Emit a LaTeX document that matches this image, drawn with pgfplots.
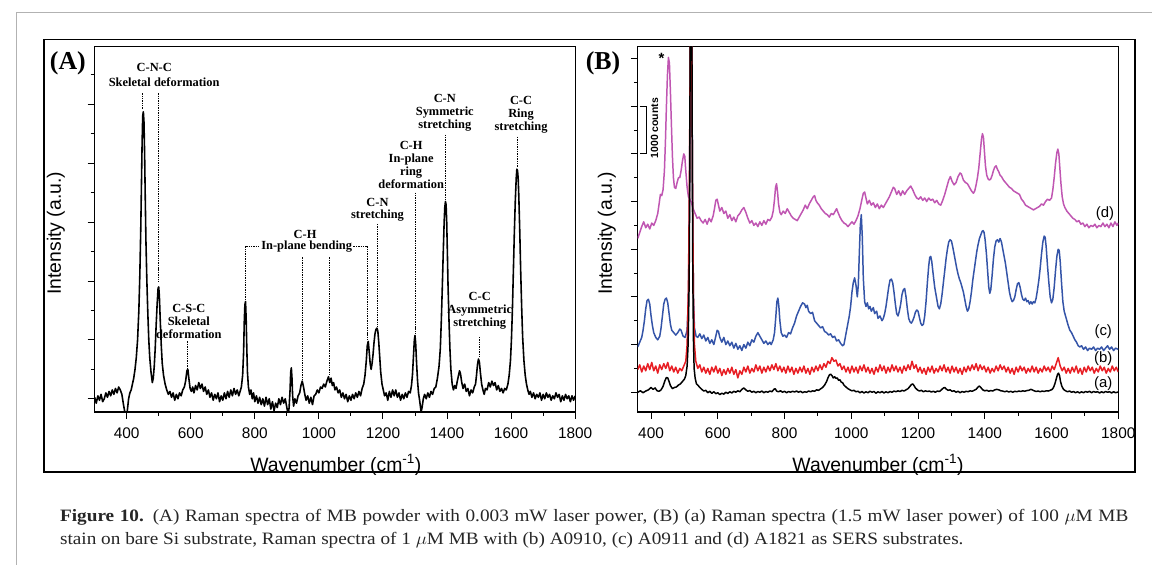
\documentclass[border=0pt]{standalone}
\usepackage{fontspec}
\setmainfont{Liberation Sans}
\newfontfamily\capserif{Liberation Serif}
\usepackage{graphicx}
\usepackage{pgfplots}
\pgfplotsset{compat=1.18}

\definecolor{specmag}{RGB}{192,86,178}
\definecolor{specblue}{RGB}{52,84,168}
\definecolor{specred}{RGB}{232,30,36}

\newcommand\annfont{\capserif\bfseries\fontsize{12.5}{13}\selectfont}
\newcommand\capfont{\capserif\fontsize{17.5}{23}\selectfont}
\newcommand\lineone{\textbf{Figure 10.} (A) Raman spectra of MB powder with 0.003~mW laser power, (B) (a) Raman spectra (1.5~mW laser power) of 100~$\mu$M~MB}
\newcommand\linetwo{stain on bare Si substrate, Raman spectra of 1~$\mu$M MB with (b) A0910, (c) A0911 and (d) A1821 as SERS substrates.}
\newlength\capw

\pgfplotsset{
  ramanax/.style={
    scale only axis, width=484pt, height=368pt, anchor=south west,
    axis line style={line width=1.2pt},
    tick align=outside, xtick pos=bottom, ytick pos=left,
    major tick length=7pt, minor tick length=4pt,
    tick style={line width=1pt, black},
    xtick={400,600,...,1800}, minor xtick={500,700,...,1700},
    yticklabels={},
    tick label style={font=\fontsize{15.5}{15.5}\selectfont},
    xticklabel style={yshift=-5pt},
    /pgf/number format/assume math mode=true,
    /pgf/number format/1000 sep={},
  },
  spec/.style={line width=1.5pt, line join=round},
}
\tikzset{
  ann/.style={font=\annfont, inner sep=0pt, align=center},
  dline/.style={black, line width=0.8pt, dash pattern=on 1.4pt off 1pt},
}

\begin{document}
\settowidth\capw{\capfont\linetwo}
\pgfmathsetmacro\capsx{910/\capw}
\pgfmathsetlengthmacro\capwone{1076pt/\capsx}
\begin{tikzpicture}
\begin{scope}[x=1pt,y=1pt]
\useasboundingbox (0,0) rectangle (1152,569);
\fill[white] (0,0) rectangle (1152,569);
% page frame and figure box
\draw[gray!60, line width=1.2pt] (8.3,-5) -- (8.3,556.3) -- (1160,556.3);
\draw[black, line width=1.6pt] (36,529) rectangle (1135,93.5);
\end{scope}

% ---------------- panel A ----------------
\begin{axis}[ramanax, at={(87pt,154pt)},
  xmin=300, xmax=1800, ymin=-0.45, ymax=11.96,
  ytick={0,2,...,10}, minor ytick={1,3,...,11}]
\addplot[black, spec, line width=1.6pt] coordinates {
(300,0.05)(305,-0.15)(310,0.1)(315,-0.05)(320,0.15)(325,-0.1)(330,0.0)(335,0.2)(340,0.05)(345,0.25)
(350,0.1)(355,0.3)(360,0.15)(365,0.35)(370,0.2)(375,0.4)(380,0.3)(385,0.15)(390,-0.2)(395,-0.5)
(400,-0.6)(403,-0.3)(406,0.0)(410,0.2)(414,0.3)(418,0.5)(422,0.7)(426,1.0)(430,1.4)(434,2.0)
(438,3.0)(441,4.2)(444,5.8)(446,7.2)(448,8.6)(450,9.6)(452,9.75)(454,9.4)(456,8.3)(458,6.8)
(460,5.4)(463,4.0)(466,2.9)(469,2.0)(472,1.4)(476,0.9)(480,0.55)(483,0.7)(486,1.1)(489,1.7)
(492,2.5)(495,3.2)(498,3.75)(500,3.8)(502,3.5)(505,2.6)(508,1.8)(511,1.2)(515,0.8)(520,0.5)
(525,0.3)(530,0.15)(535,0.25)(540,0.05)(545,0.2)(550,-0.05)(555,0.15)(560,0.0)(565,0.2)(570,0.1)
(575,0.3)(580,0.4)(584,0.6)(588,0.95)(591,1.0)(594,0.7)(598,0.35)(602,0.25)(606,0.4)(610,0.2)
(615,0.45)(620,0.3)(625,0.55)(630,0.35)(635,0.5)(640,0.25)(645,0.4)(650,0.15)(655,0.3)(660,0.05)
(665,0.2)(670,-0.05)(675,0.15)(680,0.0)(685,0.2)(690,-0.1)(695,0.1)(700,-0.05)(705,0.2)(710,0.0)
(715,0.25)(720,0.05)(725,0.3)(730,0.1)(735,0.35)(740,0.15)(745,0.3)(750,0.1)(754,0.25)(758,0.4)
(762,0.8)(765,1.6)(767,2.6)(769,3.2)(771,3.3)(773,2.7)(775,1.7)(777,0.9)(780,0.4)(784,0.15)
(788,0.3)(792,0.0)(796,0.2)(800,-0.1)(805,0.1)(810,-0.15)(815,0.05)(820,-0.2)(825,0.0)(830,-0.25)
(835,0.05)(840,-0.2)(845,0.0)(850,-0.35)(855,-0.1)(860,-0.4)(865,-0.15)(870,-0.3)(875,0.0)(880,-0.2)
(885,0.05)(890,-0.15)(895,0.0)(900,-0.3)(904,-0.55)(907,-0.3)(910,0.3)(912,0.9)(914,1.05)(916,0.7)
(918,0.1)(921,-0.25)(925,0.0)(930,-0.15)(935,0.1)(940,0.2)(944,0.45)(948,0.6)(952,0.4)(956,0.15)
(960,-0.05)(965,0.1)(970,-0.15)(975,0.05)(980,-0.2)(985,0.1)(990,0.15)(995,0.3)(1000,0.2)(1005,0.4)
(1010,0.35)(1015,0.5)(1020,0.4)(1025,0.6)(1030,0.75)(1034,0.55)(1038,0.7)(1042,0.45)(1046,0.55)(1050,0.3)
(1055,0.4)(1060,0.2)(1065,0.3)(1070,0.05)(1075,0.2)(1080,0.0)(1085,0.15)(1090,-0.1)(1095,0.1)(1100,-0.05)
(1105,0.15)(1110,0.0)(1115,0.2)(1120,0.05)(1125,0.25)(1130,0.1)(1135,0.35)(1140,0.5)(1144,0.8)(1148,1.3)
(1151,1.8)(1154,1.95)(1157,1.6)(1160,1.2)(1163,1.0)(1166,1.2)(1169,1.5)(1172,1.9)(1175,2.2)(1178,2.35)
(1181,2.4)(1184,2.3)(1187,1.9)(1190,1.4)(1193,0.9)(1197,0.5)(1201,0.3)(1205,0.1)(1210,0.2)(1215,-0.05)
(1220,0.25)(1225,0.05)(1230,0.3)(1235,0.1)(1240,0.3)(1245,0.05)(1250,0.2)(1255,-0.05)(1260,0.15)(1265,0.0)
(1270,0.2)(1275,0.05)(1280,0.25)(1285,0.2)(1289,0.45)(1292,0.8)(1295,1.4)(1298,2.0)(1300,2.15)(1302,1.9)
(1305,1.2)(1308,0.6)(1311,0.2)(1315,-0.1)(1319,-0.45)(1322,-0.3)(1326,0.0)(1330,0.15)(1335,0.0)(1340,0.2)
(1345,0.05)(1350,0.25)(1355,0.15)(1360,0.35)(1365,0.4)(1370,0.7)(1375,1.1)(1379,1.7)(1382,2.6)(1385,3.7)
(1388,4.9)(1391,6.0)(1393,6.5)(1395,6.7)(1397,6.6)(1399,6.0)(1401,5.0)(1403,3.9)(1406,2.7)(1409,1.7)
(1412,1.0)(1416,0.5)(1420,0.3)(1424,0.45)(1428,0.35)(1432,0.6)(1436,0.8)(1439,0.95)(1442,0.85)(1446,0.55)
(1450,0.35)(1455,0.5)(1460,0.25)(1465,0.35)(1470,0.1)(1475,0.3)(1480,0.2)(1485,0.4)(1489,0.5)(1492,0.8)
(1495,1.15)(1498,1.35)(1501,1.25)(1504,0.9)(1508,0.5)(1512,0.3)(1516,0.15)(1520,0.35)(1525,0.3)(1530,0.55)
(1535,0.4)(1540,0.6)(1545,0.45)(1550,0.55)(1555,0.3)(1560,0.45)(1565,0.25)(1570,0.35)(1575,0.2)(1580,0.35)
(1585,0.3)(1590,0.5)(1594,0.8)(1598,1.3)(1601,2.0)(1604,3.0)(1607,4.3)(1610,5.6)(1613,6.7)(1616,7.5)
(1618,7.8)(1620,7.75)(1622,7.5)(1624,6.9)(1627,5.7)(1630,4.3)(1633,3.1)(1636,2.1)(1640,1.3)(1644,0.8)
(1648,0.5)(1652,0.3)(1656,0.15)(1660,0.25)(1665,0.05)(1670,0.2)(1675,0.0)(1680,0.15)(1685,0.05)(1690,0.2)
(1695,-0.05)(1700,0.15)(1705,0.0)(1710,0.2)(1715,0.05)(1720,0.15)(1725,-0.05)(1730,0.1)(1735,0.0)(1740,0.2)
(1745,0.05)(1750,0.15)(1755,-0.1)(1760,0.1)(1765,-0.05)(1770,0.15)(1775,0.0)(1780,0.1)(1785,-0.1)(1790,0.1)
(1795,-0.05)(1800,0.1)};
% band assignments
\node[ann] at (486,11.26) {C-N-C};
\node[ann] at (517,10.75) {Skeletal deformation};
\draw[dline] (450,10.38) -- (450,9.85);
\draw[dline] (500,10.38) -- (500,3.95);
\node[ann] at (594,2.62) {C-S-C\\Skeletal\\deformation};
\draw[dline] (590,1.95) -- (590,1.05);
\node[ann] at (957,5.59) {C-H};
\draw[dline] (770,3.35) -- (770,5.18) -- (1152,5.18) -- (1152,2.0);
\node[ann, fill=white, inner sep=1pt] at (962,5.18) {In-plane bending};
\draw[dline] (947,4.8) -- (947,0.65);
\draw[dline] (1032,4.8) -- (1032,0.8);
\node[ann] at (1183,6.42) {C-N\\stretching};
\draw[dline] (1183,5.94) -- (1183,2.45);
\node[ann] at (1288,7.94) {C-H\\In-plane\\ring\\deformation};
\draw[dline] (1302,7.0) -- (1302,2.2);
\node[ann] at (1393,9.72) {C-N\\Symmetric\\stretching};
\draw[dline] (1396,8.97) -- (1396,6.75);
\node[ann] at (1631,9.65) {C-C\\Ring\\stretching};
\draw[dline] (1620,8.9) -- (1620,7.85);
\node[ann] at (1502,2.99) {C-C\\Asymmetric\\stretching};
\draw[dline] (1500,2.1) -- (1500,1.4);
\end{axis}

% ---------------- panel B ----------------
\begin{axis}[ramanax, at={(634pt,154pt)},
  xmin=360, xmax=1800, ymin=-0.83, ymax=14.5,
  ytick={0,2,...,14}, minor ytick={1,3,...,13}]
% (d) A1821
\addplot[specmag, spec] coordinates {
(360,6.45)(366,6.7)(372,6.95)(378,7.15)(384,6.9)(390,7.05)(396,6.85)(402,7.1)(408,7.0)(414,7.2)
(420,7.5)(424,7.9)(428,8.3)(432,8.25)(436,8.5)(440,9.3)(443,10.5)(446,12.0)(449,13.3)(452,14.05)
(455,13.8)(458,12.6)(461,11.2)(464,9.9)(467,9.0)(470,8.6)(474,8.55)(478,8.8)(482,9.0)(486,9.0)
(490,9.3)(494,9.7)(498,10.0)(501,9.9)(504,9.3)(508,8.6)(512,8.2)(516,8.1)(520,8.0)(526,7.7)
(532,7.5)(538,7.3)(544,7.35)(550,7.2)(556,7.1)(562,7.25)(568,7.05)(574,7.3)(580,7.15)(586,7.4)
(590,7.7)(594,8.05)(598,8.1)(602,7.85)(606,7.6)(612,7.75)(618,7.5)(624,7.6)(630,7.3)(636,7.45)
(642,7.2)(648,7.35)(654,7.15)(660,7.4)(666,7.5)(672,7.65)(678,7.75)(684,7.55)(690,7.3)(696,7.1)
(702,7.2)(708,7.0)(714,7.1)(720,6.95)(726,7.15)(732,7.0)(738,7.2)(744,7.05)(750,7.25)(756,7.2)
(762,7.35)(766,7.6)(770,8.1)(773,8.6)(776,8.75)(779,8.4)(782,7.9)(786,7.55)(790,7.45)(796,7.6)
(802,7.5)(808,7.7)(814,7.55)(820,7.4)(826,7.3)(832,7.25)(838,7.2)(844,7.35)(850,7.5)(856,7.65)
(862,7.85)(868,7.7)(874,7.9)(880,8.05)(886,8.2)(890,8.25)(894,8.05)(898,7.95)(904,7.85)(910,7.7)
(916,7.6)(922,7.5)(928,7.45)(934,7.35)(940,7.5)(946,7.45)(952,7.6)(956,7.7)(960,7.55)(966,7.35)
(972,7.2)(978,7.1)(984,7.05)(990,6.95)(996,7.05)(1002,7.15)(1008,7.05)(1014,7.2)(1020,7.4)(1026,7.7)
(1032,8.1)(1036,8.35)(1040,8.4)(1044,8.15)(1048,7.9)(1054,8.05)(1060,7.85)(1066,7.95)(1072,7.75)(1078,7.9)
(1084,7.7)(1090,7.85)(1096,7.75)(1102,7.9)(1108,8.05)(1114,8.2)(1120,8.4)(1126,8.6)(1130,8.55)(1136,8.3)
(1142,8.45)(1148,8.25)(1154,8.45)(1160,8.3)(1166,8.45)(1172,8.55)(1178,8.65)(1184,8.5)(1190,8.3)(1196,8.15)
(1202,8.1)(1208,8.2)(1214,8.05)(1220,8.15)(1226,8.0)(1232,8.15)(1238,8.05)(1244,8.1)(1250,7.95)(1256,8.05)
(1262,7.9)(1268,7.85)(1274,8.05)(1280,8.3)(1286,8.6)(1292,8.9)(1297,9.05)(1302,8.85)(1308,8.7)(1314,8.8)
(1320,9.05)(1326,9.2)(1330,9.15)(1336,8.9)(1342,8.8)(1348,8.75)(1354,8.6)(1360,8.45)(1366,8.35)(1370,8.45)
(1374,8.7)(1378,9.0)(1382,9.4)(1386,10.0)(1390,10.6)(1393,10.85)(1396,10.7)(1399,10.1)(1402,9.5)(1406,9.1)
(1410,8.95)(1414,8.9)(1418,8.95)(1422,9.1)(1426,9.3)(1430,9.45)(1434,9.5)(1438,9.35)(1442,9.25)(1446,9.1)
(1450,9.05)(1456,8.9)(1462,8.8)(1468,8.7)(1474,8.6)(1480,8.55)(1486,8.45)(1492,8.4)(1498,8.35)(1504,8.3)
(1510,8.1)(1516,8.0)(1522,7.85)(1528,7.8)(1534,7.75)(1540,7.7)(1546,7.65)(1552,7.7)(1558,7.75)(1564,7.8)
(1570,7.9)(1576,7.85)(1582,8.0)(1588,8.1)(1594,8.05)(1600,8.15)(1604,8.5)(1608,9.0)(1612,9.6)(1616,10.05)
(1619,10.2)(1622,10.0)(1625,9.4)(1628,8.8)(1632,8.2)(1636,7.9)(1640,7.75)(1646,7.6)(1652,7.5)(1658,7.4)
(1664,7.3)(1670,7.25)(1676,7.15)(1682,7.2)(1688,7.05)(1694,7.1)(1700,6.95)(1706,7.05)(1712,6.9)(1718,7.0)
(1724,6.95)(1730,7.05)(1736,6.9)(1742,7.0)(1748,6.95)(1754,7.1)(1760,6.95)(1766,7.05)(1772,6.9)(1778,7.1)
(1784,6.95)(1790,7.15)(1796,7.0)(1800,7.1)};
% (c) A0911
\addplot[specblue, spec] coordinates {
(360,1.9)(366,2.1)(372,2.3)(376,2.6)(380,3.0)(384,3.5)(388,3.85)(392,3.9)(396,3.7)(400,3.2)
(404,2.8)(408,2.5)(414,2.3)(420,2.2)(426,2.35)(430,2.7)(434,3.2)(438,3.7)(442,3.9)(446,3.95)
(450,3.75)(454,3.3)(458,2.85)(462,2.6)(468,2.5)(474,2.4)(480,2.5)(486,2.65)(490,2.6)(496,2.35)
(502,2.3)(508,2.6)(512,4.0)(515,8.0)(518,16)(521,18)(524,9)(527,4.0)(530,2.7)(535,2.35)
(540,2.3)(546,2.45)(552,2.25)(558,2.4)(564,2.15)(570,2.3)(576,2.05)(582,2.2)(588,2.0)(594,2.35)
(598,2.6)(602,2.55)(606,2.3)(612,2.1)(618,2.3)(624,2.0)(630,2.15)(636,1.95)(642,2.1)(648,1.85)
(654,2.05)(660,1.8)(666,1.95)(672,1.75)(678,2.0)(684,1.85)(690,2.1)(696,1.95)(702,2.2)(708,2.1)
(714,2.35)(720,2.5)(726,2.35)(732,2.2)(738,2.05)(744,2.15)(750,2.0)(756,2.1)(760,2.0)(766,2.2)
(770,2.5)(774,3.2)(777,3.8)(780,3.95)(783,3.6)(786,3.0)(790,2.5)(795,2.35)(800,2.4)(806,2.3)
(812,2.5)(818,2.45)(824,2.7)(830,2.9)(836,3.2)(842,3.4)(848,3.6)(854,3.75)(860,3.7)(864,3.55)
(868,3.65)(872,3.4)(878,3.3)(884,3.35)(890,3.0)(896,2.9)(902,2.8)(908,2.7)(914,2.75)(920,2.55)
(926,2.5)(932,2.4)(938,2.45)(944,2.3)(950,2.35)(956,2.15)(962,2.2)(968,2.05)(974,1.95)(978,2.0)
(982,2.3)(986,2.6)(990,2.9)(994,3.2)(998,3.6)(1002,4.2)(1006,4.6)(1010,4.8)(1014,4.5)(1018,4.0)
(1021,4.5)(1024,5.8)(1027,7.0)(1030,7.45)(1033,6.5)(1036,4.8)(1040,3.8)(1044,3.6)(1048,3.75)(1052,3.5)
(1056,3.6)(1060,3.4)(1066,3.55)(1070,3.3)(1076,3.4)(1080,3.1)(1086,3.2)(1092,3.0)(1096,3.1)(1100,3.3)
(1104,3.6)(1108,4.0)(1112,4.4)(1116,4.7)(1120,4.75)(1124,4.6)(1128,4.2)(1132,3.7)(1136,3.3)(1140,3.2)
(1144,3.4)(1148,3.7)(1152,4.1)(1156,4.3)(1160,4.35)(1164,4.0)(1168,3.5)(1172,3.1)(1176,2.95)(1180,2.9)
(1184,3.0)(1188,3.15)(1192,3.35)(1196,3.45)(1200,3.4)(1204,3.15)(1208,2.9)(1212,2.8)(1216,2.85)(1220,3.2)
(1224,3.8)(1228,4.6)(1232,5.3)(1235,5.65)(1238,5.7)(1241,5.5)(1245,5.0)(1250,4.4)(1255,4.0)(1260,3.6)
(1264,3.5)(1268,3.7)(1272,4.1)(1276,4.6)(1280,5.1)(1284,5.6)(1288,6.0)(1292,6.3)(1296,6.4)(1300,6.35)
(1304,6.1)(1308,5.8)(1312,5.5)(1316,5.2)(1320,4.95)(1324,4.75)(1328,4.6)(1332,4.4)(1336,4.2)(1340,3.9)
(1344,3.6)(1348,3.4)(1352,3.5)(1356,3.8)(1360,4.2)(1364,4.7)(1368,5.1)(1372,5.5)(1376,5.9)(1380,6.2)
(1384,6.45)(1388,6.6)(1392,6.75)(1395,6.78)(1398,6.7)(1401,6.4)(1405,5.8)(1409,5.0)(1412,4.4)(1415,4.15)
(1418,4.3)(1422,4.9)(1426,5.6)(1430,6.1)(1434,6.35)(1438,6.4)(1442,6.3)(1446,6.45)(1450,6.3)(1454,6.0)
(1458,5.7)(1462,5.4)(1466,5.0)(1470,4.6)(1474,4.2)(1478,3.95)(1482,3.8)(1486,3.85)(1490,4.0)(1494,4.3)
(1498,4.55)(1502,4.6)(1506,4.4)(1510,4.1)(1514,3.9)(1518,3.85)(1522,3.95)(1526,3.8)(1530,3.85)(1534,3.7)
(1538,3.8)(1542,3.7)(1546,3.8)(1550,3.75)(1554,3.95)(1558,4.3)(1562,4.7)(1566,5.2)(1570,5.8)(1574,6.3)
(1578,6.55)(1581,6.5)(1584,6.1)(1588,5.3)(1592,4.6)(1596,4.0)(1600,3.75)(1604,3.9)(1608,4.4)(1612,5.1)
(1616,5.7)(1620,6.0)(1623,5.95)(1626,5.5)(1630,4.6)(1634,3.8)(1638,3.4)(1642,3.2)(1646,3.0)(1650,2.8)
(1655,2.6)(1660,2.5)(1665,2.35)(1670,2.2)(1675,2.1)(1680,1.95)(1685,1.9)(1690,1.95)(1696,1.8)(1702,1.9)
(1708,1.75)(1714,1.85)(1720,1.8)(1726,1.9)(1732,1.75)(1738,1.85)(1744,1.8)(1750,1.9)(1756,1.75)(1762,1.85)
(1768,1.95)(1774,1.8)(1780,1.9)(1786,1.75)(1792,1.85)(1800,1.8)};
% (b) A0910
\addplot[specred, spec] coordinates {
(360,0.95)(366,1.15)(372,0.85)(378,1.1)(384,0.9)(390,1.2)(396,0.95)(402,1.25)(408,0.9)(414,1.1)
(420,0.8)(426,1.15)(432,0.95)(438,1.2)(444,1.0)(450,1.25)(456,0.9)(462,1.1)(468,0.85)(474,1.05)
(480,0.8)(486,1.0)(492,0.9)(498,1.1)(504,1.3)(508,2.0)(512,4.5)(515,9.0)(518,16.0)(521,17.0)
(524,9.0)(527,4.0)(530,2.0)(534,1.3)(540,1.0)(546,1.15)(552,0.85)(558,1.05)(564,0.8)(570,1.0)
(576,0.75)(582,1.05)(588,0.85)(594,1.1)(600,0.8)(606,1.0)(612,0.7)(618,0.95)(624,0.75)(630,1.0)
(636,0.8)(642,1.05)(648,0.75)(654,0.95)(660,0.6)(666,0.9)(672,0.75)(678,1.05)(684,0.85)(690,1.1)
(696,0.8)(702,1.0)(708,0.85)(714,1.15)(720,0.9)(726,1.1)(732,0.8)(738,1.05)(744,0.85)(750,1.1)
(756,0.9)(762,1.15)(768,0.95)(774,1.2)(780,0.9)(786,1.1)(792,0.85)(798,1.05)(804,0.8)(810,1.1)
(816,0.85)(822,1.05)(828,0.75)(834,1.0)(840,0.8)(846,1.05)(852,0.85)(858,1.1)(864,0.8)(870,1.0)
(876,0.75)(882,1.05)(888,0.85)(894,1.1)(900,0.9)(906,1.15)(912,0.95)(918,1.2)(924,1.05)(930,1.3)
(936,1.2)(942,1.45)(948,1.3)(954,1.35)(960,1.1)(966,1.2)(972,0.95)(978,1.1)(984,0.85)(990,1.05)
(996,0.8)(1002,1.1)(1008,0.85)(1014,1.05)(1020,0.8)(1026,1.1)(1032,0.9)(1038,1.15)(1044,0.85)(1050,1.05)
(1056,0.8)(1062,1.0)(1068,0.75)(1074,1.05)(1080,0.85)(1086,1.15)(1092,0.9)(1098,1.1)(1104,0.8)(1110,1.05)
(1116,0.85)(1122,1.15)(1128,0.9)(1134,1.1)(1140,0.85)(1146,1.05)(1152,0.8)(1158,1.1)(1164,0.9)(1170,1.15)
(1176,0.95)(1182,1.3)(1188,1.0)(1194,1.15)(1200,0.85)(1206,1.05)(1212,0.8)(1218,1.0)(1224,0.75)(1230,1.05)
(1236,0.85)(1242,1.1)(1248,0.8)(1254,1.0)(1260,0.85)(1266,1.1)(1272,0.9)(1278,1.15)(1284,0.85)(1290,1.05)
(1296,0.8)(1302,1.1)(1308,0.85)(1314,1.05)(1320,0.8)(1326,1.0)(1332,0.75)(1338,1.05)(1344,0.85)(1350,1.1)
(1356,0.9)(1362,1.15)(1368,0.95)(1374,1.2)(1380,0.9)(1386,1.15)(1392,0.95)(1398,1.1)(1404,0.85)(1410,1.05)
(1416,0.8)(1422,1.0)(1428,0.85)(1434,1.1)(1440,0.9)(1446,1.15)(1452,0.95)(1458,1.1)(1464,0.85)(1470,1.05)
(1476,0.8)(1482,1.0)(1488,0.75)(1494,1.05)(1500,0.85)(1506,1.1)(1512,0.9)(1518,1.05)(1524,0.8)(1530,1.0)
(1536,0.85)(1542,1.1)(1548,0.85)(1554,1.05)(1560,0.8)(1566,1.0)(1572,0.85)(1578,1.1)(1584,0.9)(1590,1.05)
(1596,0.85)(1602,1.1)(1608,0.95)(1614,1.2)(1620,1.45)(1626,1.1)(1632,0.9)(1638,1.05)(1644,0.8)(1650,1.0)
(1656,0.8)(1662,1.05)(1668,0.85)(1674,1.1)(1680,0.8)(1686,1.0)(1692,0.75)(1698,1.05)(1704,0.85)(1710,1.1)
(1716,0.9)(1722,1.05)(1728,0.8)(1734,1.0)(1740,0.85)(1746,1.1)(1752,0.9)(1758,1.05)(1764,0.8)(1770,1.0)
(1776,0.85)(1782,1.1)(1788,0.9)(1794,1.05)(1800,0.85)};
% (a) bare Si
\addplot[black, spec] coordinates {
(360,0.0)(368,0.06)(376,-0.02)(384,0.05)(392,0.1)(400,0.2)(406,0.12)(412,0.18)(418,0.06)(424,0.04)
(430,0.1)(436,0.25)(442,0.5)(446,0.62)(450,0.6)(454,0.45)(458,0.28)(464,0.15)(470,0.2)(476,0.22)
(482,0.3)(488,0.35)(494,0.45)(500,0.55)(504,0.7)(508,1.1)(511,2.0)(514,4.5)(516,9)(518,20)
(521,22)(523,12)(525,5)(527,2.2)(529,1.0)(532,0.6)(536,0.35)(540,0.3)(546,0.2)(552,0.12)
(558,0.05)(564,0.08)(570,-0.02)(576,0.04)(582,-0.05)(588,0.02)(594,-0.06)(600,-0.02)(606,-0.1)(612,-0.04)
(618,-0.08)(624,0.0)(630,-0.05)(636,0.02)(642,-0.03)(648,0.04)(654,0.0)(660,0.06)(666,0.02)(672,0.12)
(678,0.18)(684,0.1)(690,0.04)(696,0.07)(702,0.0)(708,0.04)(714,-0.02)(720,0.03)(726,0.0)(732,0.05)
(738,-0.02)(744,0.03)(750,0.0)(756,0.05)(762,0.02)(768,0.12)(772,0.15)(776,0.05)(782,0.02)(788,0.06)
(794,0.0)(800,0.04)(806,-0.02)(812,0.03)(818,0.0)(824,0.04)(830,0.01)(836,0.05)(842,0.0)(848,0.04)
(854,-0.02)(860,0.02)(866,0.0)(872,0.05)(878,0.02)(884,0.06)(890,0.04)(896,0.1)(902,0.08)(908,0.14)
(914,0.2)(920,0.3)(926,0.45)(930,0.6)(934,0.72)(938,0.76)(942,0.7)(946,0.6)(950,0.65)(954,0.58)
(958,0.6)(962,0.5)(966,0.52)(970,0.42)(974,0.4)(978,0.3)(984,0.22)(990,0.15)(996,0.1)(1002,0.06)
(1008,0.08)(1014,0.02)(1020,0.04)(1026,-0.02)(1032,0.03)(1038,-0.03)(1044,0.02)(1050,-0.02)(1056,0.04)(1062,0.0)
(1068,0.03)(1074,-0.04)(1080,0.02)(1086,-0.02)(1092,0.03)(1098,-0.03)(1104,0.02)(1110,-0.02)(1116,0.03)(1122,0.0)
(1128,0.05)(1134,0.02)(1140,0.06)(1146,0.03)(1152,0.08)(1158,0.05)(1164,0.1)(1170,0.15)(1176,0.25)(1180,0.32)
(1184,0.35)(1188,0.28)(1192,0.18)(1198,0.1)(1204,0.05)(1210,0.08)(1216,0.02)(1222,0.06)(1228,0.03)(1234,0.05)
(1240,0.01)(1246,0.04)(1252,0.0)(1258,0.05)(1264,0.03)(1270,0.1)(1276,0.18)(1280,0.2)(1284,0.14)(1290,0.08)
(1296,0.1)(1302,0.04)(1308,0.06)(1314,0.0)(1320,0.04)(1326,-0.02)(1332,0.03)(1338,0.0)(1344,0.04)(1350,0.02)
(1356,0.06)(1362,0.04)(1368,0.08)(1374,0.12)(1380,0.22)(1384,0.26)(1388,0.2)(1394,0.1)(1400,0.06)(1406,0.08)
(1412,0.04)(1418,0.07)(1424,0.05)(1430,0.1)(1436,0.12)(1442,0.1)(1448,0.06)(1454,0.05)(1460,0.02)(1466,0.05)
(1472,0.01)(1478,0.04)(1484,0.0)(1490,0.04)(1496,0.02)(1502,0.05)(1508,0.03)(1514,0.06)(1520,0.04)(1526,0.07)
(1532,0.08)(1538,0.12)(1542,0.1)(1548,0.06)(1554,0.03)(1560,0.05)(1566,0.02)(1572,0.05)(1578,0.03)(1584,0.06)
(1590,0.05)(1596,0.08)(1602,0.12)(1606,0.2)(1610,0.35)(1614,0.55)(1618,0.75)(1621,0.8)(1624,0.7)(1627,0.45)
(1631,0.25)(1636,0.12)(1642,0.06)(1648,0.02)(1654,0.05)(1660,0.0)(1666,0.03)(1672,-0.02)(1678,0.02)(1684,-0.03)
(1690,0.02)(1696,-0.02)(1702,0.03)(1708,0.0)(1714,0.04)(1720,-0.02)(1726,0.03)(1732,0.0)(1738,0.02)(1744,-0.03)
(1750,0.02)(1756,-0.02)(1762,0.03)(1768,0.0)(1774,0.02)(1780,-0.03)(1786,0.02)(1792,-0.02)(1800,0.01)};
\node[font=\fontsize{15}{15}\selectfont, inner sep=0pt] at (1755,0.375) {(a)};
\node[font=\fontsize{15}{15}\selectfont, inner sep=0pt] at (1755,1.42) {(b)};
\node[font=\fontsize{15}{15}\selectfont, inner sep=0pt] at (1755,2.54) {(c)};
\node[font=\fontsize{15}{15}\selectfont, inner sep=0pt] at (1760,7.5) {(d)};
\node[font=\bfseries\fontsize{15}{15}\selectfont, inner sep=0pt] at (431,14.0) {*};
\draw[black, line width=0.9pt] (366,12) -- (386,12) -- (386,10) -- (366,10);
\node[rotate=90, font=\bfseries\fontsize{10.5}{10.5}\selectfont, inner sep=0pt] at (410,11.08) {1000 counts};
\end{axis}

\begin{scope}[x=1pt,y=1pt]
% panel letters and axis titles
\node[font=\capserif\bfseries\fontsize{26}{26}\selectfont, inner sep=0pt] at (60,505) {(A)};
\node[font=\capserif\bfseries\fontsize{26}{26}\selectfont, inner sep=0pt] at (599,505) {(B)};
\node[rotate=90, font=\fontsize{19.5}{20}\selectfont, inner sep=0pt] at (48,334) {Intensity (a.u.)};
\node[rotate=90, font=\fontsize{19.5}{20}\selectfont, inner sep=0pt] at (603,334) {Intensity (a.u.)};
\node[font=\fontsize{19.5}{20}\selectfont, inner sep=0pt] at (330,101) {Wavenumber (cm\textsuperscript{-1})};
\node[font=\fontsize{19.5}{20}\selectfont, inner sep=0pt] at (876,101) {Wavenumber (cm\textsuperscript{-1})};
% caption
\node[anchor=base west, inner sep=0pt, text=black!85] at (52,44) {\scalebox{\capsx}[1]{\capfont\hbox to \capwone{\lineone}}};
\node[anchor=base west, inner sep=0pt, text=black!85] at (52,21) {\scalebox{\capsx}[1]{\capfont\linetwo}};
\end{scope}
\end{tikzpicture}
\end{document}
